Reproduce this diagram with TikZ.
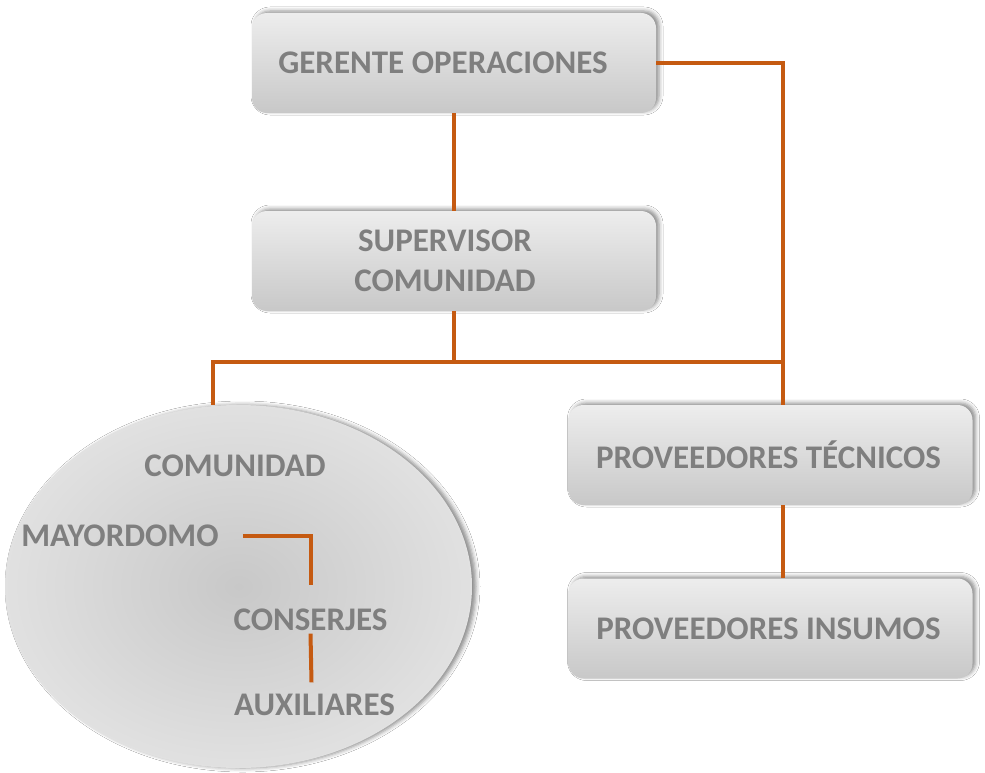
\documentclass[tikz,border=0pt]{standalone}
\usepackage{fontspec}
\setmainfont{Carlito}
\usetikzlibrary{shapes.geometric,shadows.blur}
\definecolor{lineor}{HTML}{C55A11}
\definecolor{txtgray}{HTML}{7F7F7F}
\definecolor{boxtop}{HTML}{EDEDED}
\definecolor{boxbot}{HTML}{C8C8C8}
\definecolor{ellin}{HTML}{C8C8C8}
\definecolor{ellout}{HTML}{E9E9E9}
\pgfdeclareradialshading{ellshade}{\pgfpoint{0bp}{0bp}}{color(0bp)=(ellin); color(25bp)=(ellout!75!ellin); color(50bp)=(ellout)}
\tikzset{
  orgbox/.style={rounded corners=15pt, draw=none, top color=boxtop, bottom color=boxbot,
    minimum width=404pt, minimum height=100pt, inner sep=0pt, align=center,
    text=txtgray, font=\bfseries\fontsize{33}{40}\selectfont,
    blur shadow={shadow xshift=3pt, shadow yshift=2pt, shadow blur radius=4pt, shadow opacity=45}},
  intext/.style={inner sep=0pt, text height=21pt, text depth=0pt, anchor=base,
    text=txtgray, font=\bfseries\fontsize{33}{40}\selectfont},
  conn/.style={draw=lineor, line width=4pt}
}
\begin{document}
\begin{tikzpicture}[x=1pt,y=-1pt]
\useasboundingbox (0,0) rectangle (985,773);
\fill[white] (0,0) rectangle (985,773);
% ellipse
\node[ellipse, draw=none, shading=ellshade, minimum width=467pt, minimum height=363pt, inner sep=0pt,
  blur shadow={shadow xshift=4pt, shadow yshift=0pt, shadow blur radius=4pt, shadow opacity=45}]
  (ell) at (238.5,586.5) {};
% boxes
\node[orgbox] (ger) at (454,63) {GERENTE OPERACIONES\hspace*{22pt}};
\node[orgbox] (sup) at (454,261) {SUPERVISOR\hspace*{18pt}\\COMUNIDAD\hspace*{18pt}};
\node[orgbox] (pt) at (770.5,455) {PROVEEDORES TÉCNICOS\hspace*{4pt}};
\node[orgbox] (pi) at (770.5,628.5) {PROVEEDORES INSUMOS\hspace*{4pt}};
% ellipse texts
\node[intext] (com) at (235,476.5) {COMUNIDAD};
\node[intext] (may) at (120,546.5) {MAYORDOMO};
\node[intext] (con) at (310.5,630.5) {CONSERJES};
\node[intext] (aux) at (314.5,715.5) {AUXILIARES};
% coordinates
\coordinate (busL) at (213,362);
\coordinate (busR) at (783,362);
% connectors
\draw[conn] (ger.south) -- (sup.north);
\draw[conn] (ger.east) -| ([xshift=12.5pt]pt.north);
\draw[conn] (sup.south) -- (sup.south |- busL);
\draw[conn] ([xshift=-2pt]busL) -- (busR);
\draw[conn] (busL) -- (busL |- ell.north);
\draw[conn] ([xshift=12.5pt]pt.south) -- ([xshift=12.5pt]pi.north);
\draw[conn] ([xshift=24pt,yshift=0.5pt]may.east) -| ([xshift=0.5pt,yshift=24pt]con.north);
\draw[conn] ([yshift=-3pt]con.south) -- ([xshift=1pt,yshift=12pt]aux.north -| con.south);
\end{tikzpicture}
\end{document}
